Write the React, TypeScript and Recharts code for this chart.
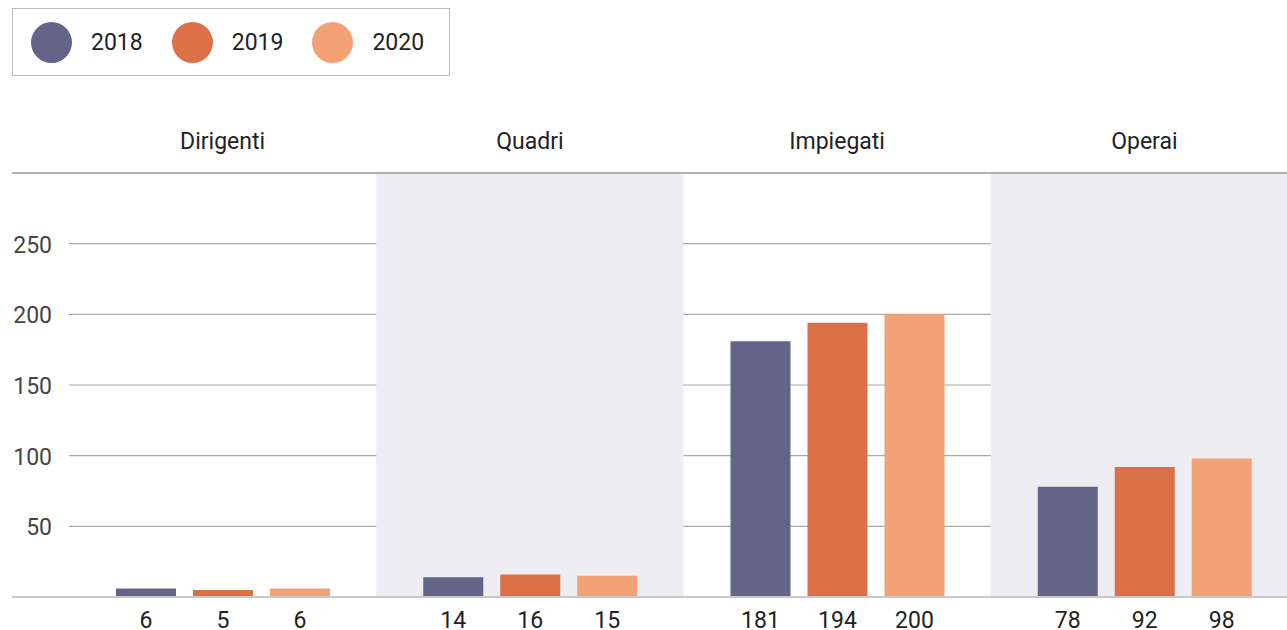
import React from 'react';
import {
  BarChart,
  Bar,
  XAxis,
  YAxis,
  CartesianGrid,
  ReferenceArea,
  LabelList,
} from 'recharts';

const categories = ['Dirigenti', 'Quadri', 'Impiegati', 'Operai'];
const values2018 = [6, 14, 181, 78];
const values2019 = [5, 16, 194, 92];
const values2020 = [6, 15, 200, 98];
const yTicks = [0, 50, 100, 150, 200, 250, 300];
const shadedCategories = ['Quadri', 'Operai'];

const series = [
  { key: 'y2018', label: '2018', color: '#646489' },
  { key: 'y2019', label: '2019', color: '#dc7047' },
  { key: 'y2020', label: '2020', color: '#f2a274' },
];

const data = categories.map((name, i) => ({
  name,
  y2018: values2018[i],
  y2019: values2019[i],
  y2020: values2020[i],
}));

const FONT = 'Roboto, "Noto Sans", sans-serif';
const CHART_W = 1298;
const CHART_H = 640;

// value printed under each bar, just below the baseline
const BottomValue = (props: any) => {
  const { x, y, width, height, value } = props;
  return (
    <text
      x={x + width / 2}
      y={y + height + 31}
      textAnchor="middle"
      fontSize={23}
      fontFamily={FONT}
      fill="#222"
    >
      {value}
    </text>
  );
};

// y ticks: numbers for the inner values, full-width rules for 0 and 300
const YTick = (props: any) => {
  const { y, payload } = props;
  const v = payload.value;
  if (v === 0) {
    return <line x1={12} x2={CHART_W} y1={y} y2={y} stroke="#c9c9cd" strokeWidth={2} />;
  }
  if (v === 300) {
    return <line x1={12} x2={CHART_W} y1={y} y2={y} stroke="#9a9a9a" strokeWidth={1.5} />;
  }
  return (
    <text
      x={52}
      y={y + 9}
      textAnchor="end"
      fontSize={23}
      fontFamily={FONT}
      fill="#444"
    >
      {v}
    </text>
  );
};

const Legend = () => (
  <div
    style={{
      position: 'absolute',
      left: 12,
      top: 8,
      width: 438,
      height: 68,
      border: '1px solid #bdbdbd',
      boxSizing: 'border-box',
      display: 'flex',
      alignItems: 'center',
      fontFamily: FONT,
      fontSize: 23,
      color: '#222',
      zIndex: 1,
    }}
  >
    {series.map((s, i) => (
      <div
        key={s.key}
        style={{
          display: 'flex',
          alignItems: 'center',
          marginLeft: i === 0 ? 18 : 29,
        }}
      >
        <span
          style={{
            width: 41,
            height: 41,
            borderRadius: '50%',
            background: s.color,
            display: 'inline-block',
          }}
        />
        <span style={{ marginLeft: 19 }}>{s.label}</span>
      </div>
    ))}
  </div>
);

export default function App() {
  return (
    <div
      style={{
        position: 'fixed',
        left: 0,
        top: 0,
        width: 1287,
        height: 630,
        overflow: 'hidden',
        background: '#fff',
      }}
    >
      <Legend />
      <BarChart
        width={CHART_W}
        height={CHART_H}
        data={data}
        margin={{ top: 113, right: 0, left: 11, bottom: 43 }}
        barSize={60}
        barGap={17}
      >
        {shadedCategories.map((c) => (
          <ReferenceArea
            key={c}
            x1={c}
            x2={c}
            fill="#ededf2"
            fillOpacity={1}
            stroke="none"
          />
        ))}
        <CartesianGrid
          vertical={false}
          horizontalValues={[50, 100, 150, 200, 250]}
          stroke="#a8a8a8"
          strokeWidth={1.2}
        />
        <XAxis
          dataKey="name"
          orientation="top"
          height={60}
          axisLine={false}
          tickLine={false}
          tickMargin={18}
          tick={{ fontSize: 23, fontFamily: FONT, fill: '#222' }}
        />
        <YAxis
          domain={[0, 300]}
          ticks={yTicks}
          width={58}
          axisLine={false}
          tickLine={false}
          tick={<YTick />}
          interval={0}
        />
        {series.map((s) => (
          <Bar key={s.key} dataKey={s.key} fill={s.color} isAnimationActive={false}>
            <LabelList dataKey={s.key} content={<BottomValue />} />
          </Bar>
        ))}
      </BarChart>
    </div>
  );
}
